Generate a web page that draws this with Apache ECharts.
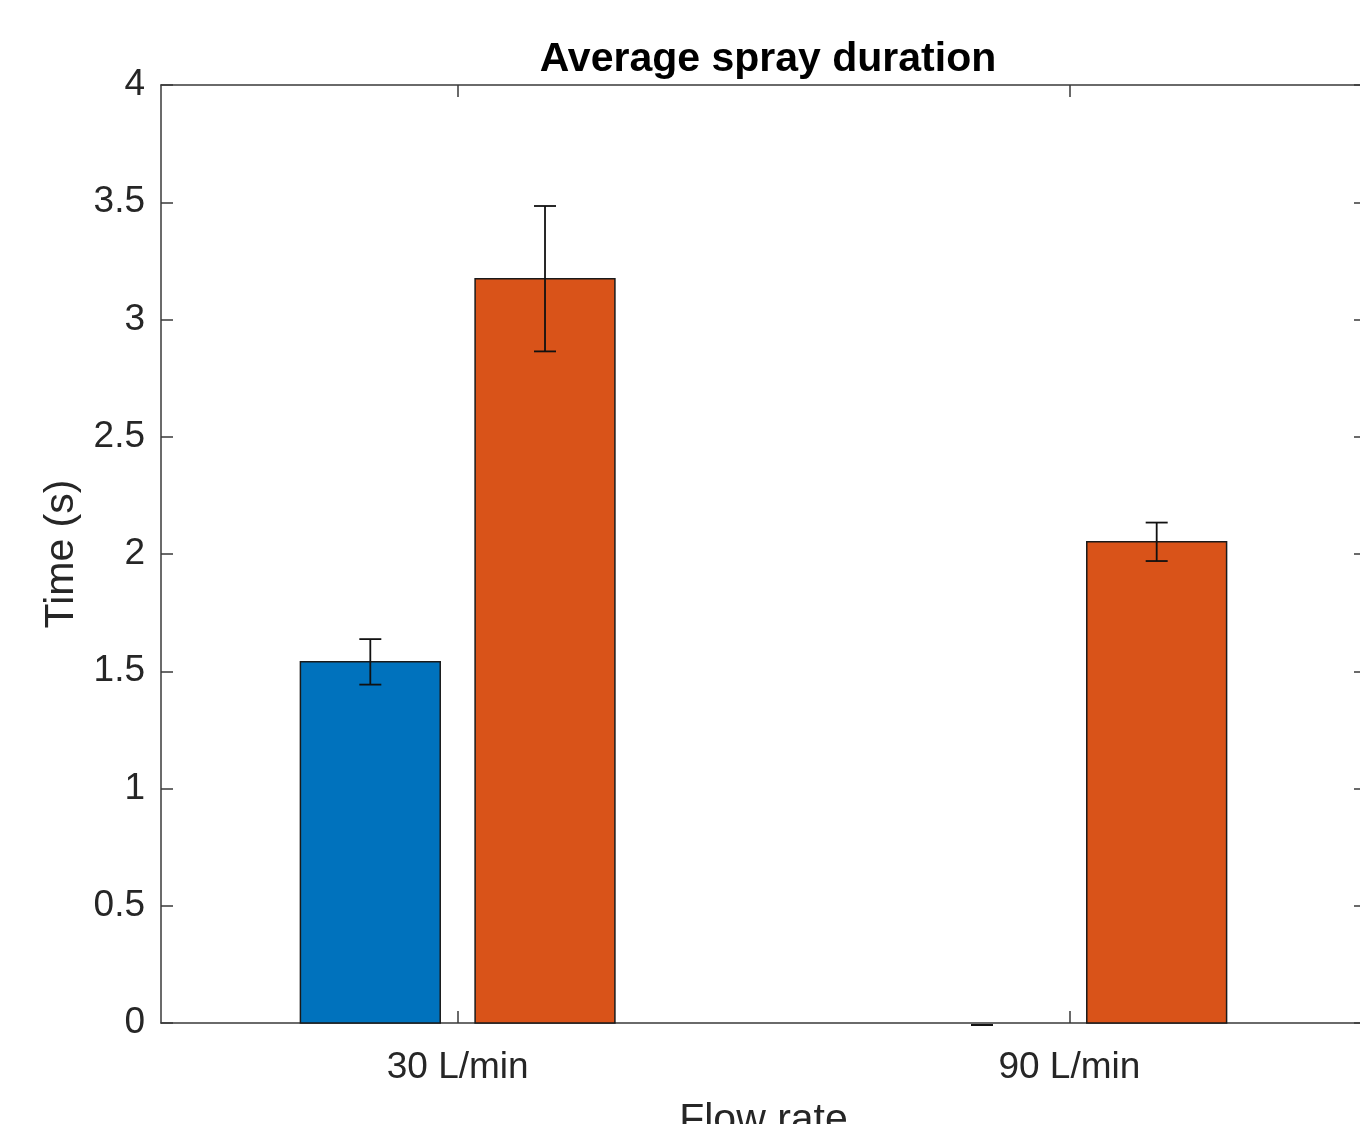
<!DOCTYPE html>
<html>
<head>
<meta charset="utf-8">
<script src="https://cdn.jsdelivr.net/npm/echarts@6/dist/echarts.min.js"></script>
<style>
  html, body { margin: 0; padding: 0; background: #fff; }
  #chart { width: 1360px; height: 1124px; }
</style>
</head>
<body>
<div id="chart"></div>
<script>
// Data
const categories = ["30 L/min", "90 L/min"];
const blueValues = [1.54, 0];
const blueErrors = [0.097, 0];
const orangeValues = [3.174, 2.052];
const orangeErrors = [0.31, 0.082];
const yTicks = [0, 0.5, 1, 1.5, 2, 2.5, 3, 3.5, 4];

const FONT = "Liberation Sans, Arial, Helvetica, sans-serif";
const AXIS_COLOR = "#3a3a3a";
const TEXT_COLOR = "#262626";
const BAR_WIDTH = 0.2286;
const BAR_OFFSETS = [-0.1428, 0.1428];
const barColors = ["#0072BD", "#D95319"];

function buildItems(values, errors) {
  return values.map((v, i) => [i + 1, v, errors[i]]);
}

function renderBar(seriesIndex) {
  return function (params, api) {
    const x = api.value(0) + BAR_OFFSETS[seriesIndex];
    const top = api.coord([x - BAR_WIDTH / 2, api.value(1)]);
    const bottom = api.coord([x + BAR_WIDTH / 2, 0]);
    return {
      type: "rect",
      shape: {
        x: top[0],
        y: top[1],
        width: bottom[0] - top[0],
        height: bottom[1] - top[1],
      },
      style: {
        fill: barColors[seriesIndex],
        // a zero bar hides under the axis line
        stroke: api.value(1) === 0 ? null : "#1a1a1a",
        lineWidth: 1.5,
      },
    };
  };
}

function renderError(seriesIndex) {
  return function (params, api) {
    const x = api.value(0) + BAR_OFFSETS[seriesIndex];
    const v = api.value(1);
    const e = api.value(2);
    const hi = api.coord([x, v + e]);
    const lo = api.coord([x, v - e]);
    const cap = 11;
    // zero-height error bars sit just under the axis line, as in the original
    const shift = e === 0 ? 2 : 0;
    const style = { stroke: "#111", lineWidth: 1.8 };
    return {
      type: "group",
      children: [
        { type: "line", shape: { x1: hi[0], y1: hi[1] + shift, x2: lo[0], y2: lo[1] + shift }, style: style },
        { type: "line", shape: { x1: hi[0] - cap, y1: hi[1] + shift, x2: hi[0] + cap, y2: hi[1] + shift }, style: style },
        { type: "line", shape: { x1: lo[0] - cap, y1: lo[1] + shift, x2: lo[0] + cap, y2: lo[1] + shift }, style: style },
      ],
    };
  };
}

const chart = echarts.init(document.getElementById("chart"));

const axisLine = { show: true, onZero: false, lineStyle: { color: AXIS_COLOR, width: 1.5 } };
const tickStyle = { show: true, inside: true, length: 12, lineStyle: { color: AXIS_COLOR, width: 1.5 } };

const option = {
  backgroundColor: "#fff",
  animation: false,
  title: {
    text: "Average spray duration",
    left: 763,
    textAlign: "center",
    top: 34,
    textStyle: { fontFamily: FONT, fontSize: 41, fontWeight: "bold", color: "#000" },
  },
  grid: { left: 161, right: -6, top: 85, bottom: 101, outerBoundsMode: "none", containLabel: false },
  xAxis: [
    {
      type: "value",
      position: "bottom",
      min: 0.515,
      max: 2.485,
      name: "Flow rate",
      nameLocation: "middle",
      nameGap: 77,
      nameTextStyle: { fontFamily: FONT, fontSize: 41, color: TEXT_COLOR },
      axisLine: axisLine,
      axisTick: { ...tickStyle, customValues: [1, 2] },
      axisLabel: {
        customValues: [1, 2],
        margin: 26,
        fontFamily: FONT,
        fontSize: 37,
        color: TEXT_COLOR,
        formatter: function (v) {
          return categories[Math.round(v) - 1] || "";
        },
      },
      splitLine: { show: false },
    },
    {
      type: "value",
      position: "top",
      min: 0.515,
      max: 2.485,
      axisLine: axisLine,
      axisTick: { ...tickStyle, customValues: [1, 2] },
      axisLabel: { show: false },
      splitLine: { show: false },
    },
  ],
  yAxis: [
    {
      type: "value",
      position: "left",
      min: 0,
      max: 4,
      interval: 0.5,
      name: "Time (s)",
      nameLocation: "middle",
      nameGap: 78,
      nameTextStyle: { fontFamily: FONT, fontSize: 41, color: TEXT_COLOR },
      axisLine: axisLine,
      axisTick: tickStyle,
      axisLabel: {
        margin: 16,
        fontFamily: FONT,
        fontSize: 37,
        color: TEXT_COLOR,
        formatter: function (v) {
          return yTicks.indexOf(v) >= 0 ? String(v) : "";
        },
      },
      splitLine: { show: false },
    },
    {
      type: "value",
      position: "right",
      min: 0,
      max: 4,
      interval: 0.5,
      axisLine: axisLine,
      axisTick: tickStyle,
      axisLabel: { show: false },
      splitLine: { show: false },
    },
  ],
  series: [
    {
      type: "custom",
      name: "Series 1",
      renderItem: renderBar(0),
      data: buildItems(blueValues, blueErrors),
      encode: { x: 0, y: 1 },
      z: 2,
    },
    {
      type: "custom",
      name: "Series 2",
      renderItem: renderBar(1),
      data: buildItems(orangeValues, orangeErrors),
      encode: { x: 0, y: 1 },
      z: 2,
    },
    {
      type: "custom",
      renderItem: renderError(0),
      data: buildItems(blueValues, blueErrors),
      encode: { x: 0, y: 1 },
      z: 3,
    },
    {
      type: "custom",
      renderItem: renderError(1),
      data: buildItems(orangeValues, orangeErrors),
      encode: { x: 0, y: 1 },
      z: 3,
    },
  ],
};

chart.setOption(option);
</script>
</body>
</html>
